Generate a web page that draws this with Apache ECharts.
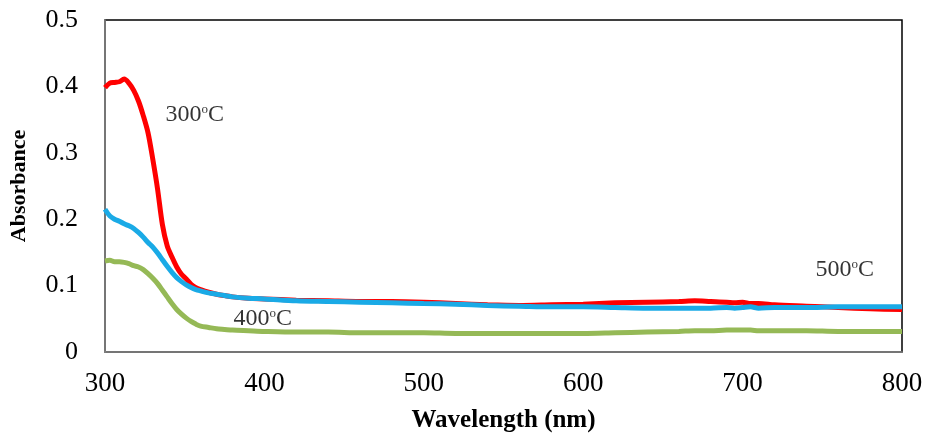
<!DOCTYPE html>
<html><head><meta charset="utf-8">
<script src="https://cdn.jsdelivr.net/npm/echarts@6/dist/echarts.min.js"></script>
<style>html,body{margin:0;padding:0;background:#fff}#c{width:927px;height:438px}</style>
</head><body><div id="c"></div>
<script>
const wavelengths = [300,303,306,309,312,315,318,321,324,327,330,333,336,339,342,345,348,351,354,357,360,365,370,375,380,390,400,420,440,460,480,500,520,540,560,580,600,620,640,660,670,680,690,695,700,705,710,720,740,760,780,800];
const abs300 = [0.398,0.405,0.406,0.407,0.411,0.405,0.394,0.378,0.356,0.330,0.290,0.245,0.192,0.160,0.143,0.128,0.117,0.110,0.102,0.097,0.094,0.090,0.087,0.085,0.083,0.081,0.080,0.078,0.077,0.076,0.076,0.075,0.073,0.071,0.070,0.071,0.072,0.074,0.075,0.076,0.077,0.076,0.075,0.074,0.075,0.073,0.073,0.071,0.069,0.067,0.065,0.064];
const abs500 = [0.215,0.205,0.200,0.197,0.193,0.190,0.186,0.180,0.173,0.165,0.158,0.149,0.139,0.129,0.120,0.112,0.106,0.101,0.097,0.094,0.092,0.089,0.087,0.085,0.083,0.081,0.080,0.077,0.076,0.075,0.074,0.073,0.072,0.070,0.069,0.068,0.068,0.067,0.066,0.066,0.066,0.066,0.067,0.066,0.067,0.068,0.066,0.067,0.067,0.068,0.068,0.068];
const abs400 = [0.137,0.138,0.136,0.136,0.135,0.133,0.130,0.128,0.124,0.118,0.111,0.103,0.093,0.083,0.073,0.064,0.057,0.051,0.046,0.042,0.039,0.037,0.035,0.034,0.033,0.032,0.031,0.030,0.030,0.029,0.029,0.029,0.028,0.028,0.028,0.028,0.028,0.029,0.030,0.031,0.032,0.032,0.033,0.033,0.033,0.033,0.032,0.032,0.032,0.031,0.031,0.031];
const xTicks = [300,400,500,600,700,800];
const yTicks = [0,0.1,0.2,0.3,0.4,0.5];
const labelNames = ['300','400','500'];
const labelX = [337.6, 380.3, 745.4];
const labelY = [0.358, 0.050, 0.124];
const pairs = v => wavelengths.map((w,i)=>[w,v[i]]);
const font = '"Liberation Serif","Times New Roman",serif';
const chart = echarts.init(document.getElementById('c'));
chart.setOption({
  animation:false,
  grid:{left:105,right:25,top:20,bottom:81,show:true,borderColor:'#000',borderWidth:1.5,backgroundColor:'transparent'},
  xAxis:{type:'value',min:300,max:800,interval:100,
    name:'Wavelength (nm)',nameLocation:'middle',nameGap:56,
    nameTextStyle:{fontFamily:font,fontWeight:'bold',fontSize:25,color:'#000'},
    axisLine:{show:true,lineStyle:{color:'#888',width:1.5}},axisTick:{show:false},splitLine:{show:false},
    axisLabel:{fontFamily:font,fontSize:27,color:'#000',margin:18}},
  yAxis:{type:'value',min:0,max:0.5,interval:0.1,
    name:'Absorbance',nameLocation:'middle',nameGap:75,nameRotate:90,
    nameTextStyle:{fontFamily:font,fontWeight:'bold',fontSize:22,color:'#000'},
    axisLine:{show:true,lineStyle:{color:'#888',width:1.5}},axisTick:{show:false},splitLine:{show:false},
    axisLabel:{fontFamily:font,fontSize:26,color:'#000',margin:27,formatter:v=>yTicks.includes(+v.toFixed(1))?String(+v.toFixed(1)):''}},
  series:[
    {type:'line',data:pairs(abs400),showSymbol:false,smooth:0.3,lineStyle:{color:'#95B956',width:5},z:2},
    {type:'line',data:pairs(abs300),showSymbol:false,smooth:0.3,lineStyle:{color:'#FF0000',width:5},z:3},
    {type:'line',data:pairs(abs500),showSymbol:false,smooth:0.3,lineStyle:{color:'#1AAAE6',width:5},z:4},
    {type:'scatter',symbolSize:1,itemStyle:{color:'rgba(0,0,0,0)'},silent:true,z:5,
      data:labelNames.map((n,i)=>({value:[labelX[i],labelY[i]],name:n})),
      label:{show:true,position:'right',distance:0,color:'#000',fontSize:24,fontFamily:font,
        formatter:p=>'{n|'+p.name+'}{s|o}{n|C}',
        rich:{n:{fontFamily:font,fontSize:24,color:'#000'},s:{fontFamily:font,fontSize:13,color:'#000',padding:[0,0,10,0]}}}}
  ]
});
</script></body></html>
